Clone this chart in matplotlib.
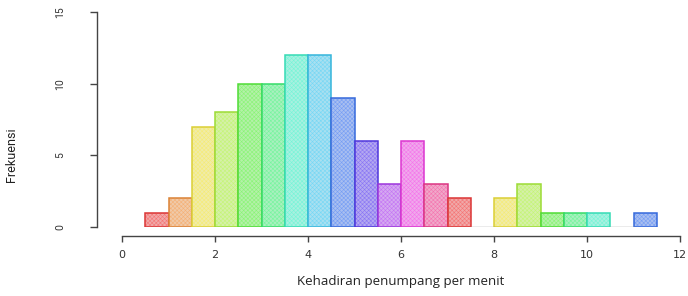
import colorsys
import numpy as np
import matplotlib
matplotlib.use("Agg")
import matplotlib.pyplot as plt

# histogram bins (width 0.5) and counts
bin_left = [0.5, 1.0, 1.5, 2.0, 2.5, 3.0, 3.5, 4.0, 4.5, 5.0, 5.5,
            6.0, 6.5, 7.0, 7.5, 8.0, 8.5, 9.0, 9.5, 10.0, 10.5, 11.0]
counts = [1, 2, 7, 8, 10, 10, 12, 12, 9, 6, 3,
          6, 3, 2, 0, 2, 3, 1, 1, 1, 0, 1]
bin_width = 0.5
x_ticks = [0, 2, 4, 6, 8, 10, 12]
y_ticks = [0, 5, 10, 15]

# R style rainbow(13), recycled over the bins
n_col = 13
base = [np.array(colorsys.hsv_to_rgb(i / n_col, 1, 1)) for i in range(n_col)]
cols = [base[i % n_col] for i in range(len(counts))]

plt.rcParams['hatch.linewidth'] = 0.4

fig = plt.figure(figsize=(6.88, 2.96), dpi=100)
ax = fig.add_axes([122 / 688, (296 - 227) / 296, 558 / 688, 215 / 296])

grey = np.array([0.92, 0.92, 0.92])
for xl, h, c in zip(bin_left, counts, cols):
    if h == 0:
        ax.plot([xl, xl + bin_width], [0, 0], color='#999999', lw=1.0)
        continue
    face = tuple(0.28 * c + 0.72 * grey)
    hatch_c = tuple(0.5 * c + 0.5 * grey)
    edge = tuple(0.65 * c + 0.35 * np.array([0.6, 0.6, 0.6]))
    # fine shading texture
    ax.bar(xl, h, width=bin_width, align='edge', color=face,
           edgecolor=hatch_c, linewidth=0, hatch='xxxxxxxx')
    # border
    ax.bar(xl, h, width=bin_width, align='edge', color='none',
           edgecolor=edge, linewidth=1.1)

ax.set_xlim(0, 12)
ax.set_ylim(0, 15)

for s in ['top', 'right']:
    ax.spines[s].set_visible(False)
ax.spines['left'].set_position(('outward', 18))
ax.spines['bottom'].set_position(('outward', 6.5))
ax.spines['left'].set_bounds(0, 15)
ax.spines['bottom'].set_bounds(0, 12)
for s in ['left', 'bottom']:
    ax.spines[s].set_color('#444444')
    ax.spines[s].set_linewidth(1.0)

ax.set_xticks(x_ticks)
ax.set_yticks(y_ticks)
ax.set_xticklabels([str(t) for t in x_ticks], fontsize=8, color='#333333',
                   family='DejaVu Sans')
ax.set_yticklabels([str(t) for t in y_ticks], fontsize=7.5, color='#333333',
                   rotation=90, va='center', family='Roboto')
ax.tick_params(axis='x', length=4, width=1, color='#444444', pad=6)
ax.tick_params(axis='y', length=5, width=1, color='#444444', pad=18)

ax.set_xlabel('Kehadiran penumpang per menit', fontsize=9.5,
              family='Open Sans', color='#222222', labelpad=11)
fig.text(12 / 688, 1 - 155 / 296, 'Frekuensi', rotation=90, fontsize=9,
         family='Roboto', color='#222222', ha='center', va='center')

fig.savefig('out.png', dpi=100)
